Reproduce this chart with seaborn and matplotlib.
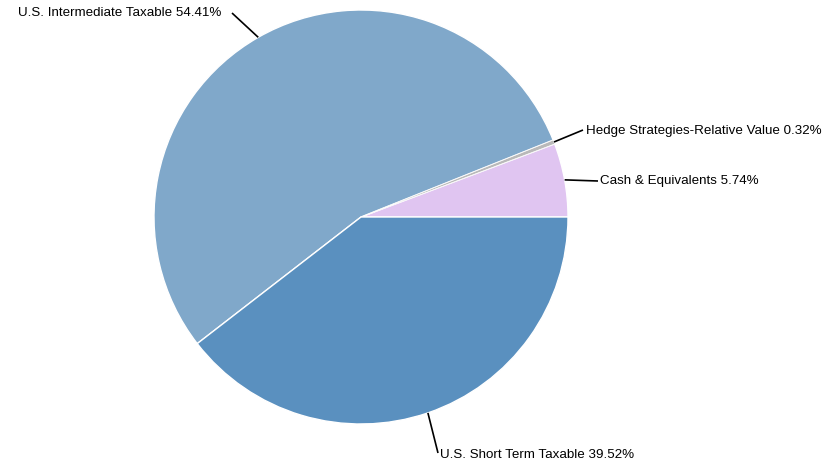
import numpy as np
import matplotlib
matplotlib.use("Agg")
import matplotlib.pyplot as plt
import seaborn as sns

# Portfolio allocation by asset class
categories = ["Cash & Equivalents", "Hedge Strategies-Relative Value",
              "U.S. Intermediate Taxable", "U.S. Short Term Taxable"]
weights = [5.74, 0.32, 54.41, 39.52]
colors = ["#e0c5f1", "#b9b9b9", "#80a8ca", "#5a90bf"]

sns.set_theme(style="white")
plt.rcParams["font.family"] = ["Liberation Sans", "DejaVu Sans"]

W, H, DPI = 840, 466, 100
fig = plt.figure(figsize=(W / DPI, H / DPI), dpi=DPI)
ax = fig.add_axes([0, 0, 1, 1])

wedges, _ = ax.pie(weights, colors=colors, startangle=0, counterclock=True,
                   radius=1.0, center=(0, 0),
                   wedgeprops=dict(edgecolor="white", linewidth=1.0))

# keep the thin slice visible on top of its neighbours' borders
wedges[1].set_zorder(wedges[1].get_zorder() + 1)
wedges[1].set_linewidth(0.5)

# pixel layout: pie centre and radius
cx, cy, R = 361, 217, 207
ax.set_aspect("auto")
ax.set_xlim(-cx / R, (W - cx) / R)
ax.set_ylim(-(H - cy) / R, cy / R)
ax.axis("off")


def px(x, y):
    return (x - cx) / R, (cy - y) / R


# leader line end (pixels), text anchor (pixels), alignment
label_layout = {
    "Cash & Equivalents": ((598, 181), (600, 181), "left"),
    "Hedge Strategies-Relative Value": ((583, 130), (586, 131), "left"),
    "U.S. Intermediate Taxable": ((232, 13), (221, 13), "right"),
    "U.S. Short Term Taxable": ((438, 453), (440, 455), "left"),
}

for w, name, val in zip(wedges, categories, weights):
    theta = np.deg2rad((w.theta1 + w.theta2) / 2)
    sx, sy = np.cos(theta), np.sin(theta)
    (ex, ey), (tx, ty), ha = label_layout[name]
    ex, ey = px(ex, ey)
    tx, ty = px(tx, ty)
    ax.plot([sx, ex], [sy, ey], color="black", lw=1.2, solid_capstyle="butt")
    ax.text(tx, ty, f"{name} {val:.2f}%", ha=ha, va="center",
            fontsize=9.6, color="black")

fig.savefig("out.png", dpi=DPI)
